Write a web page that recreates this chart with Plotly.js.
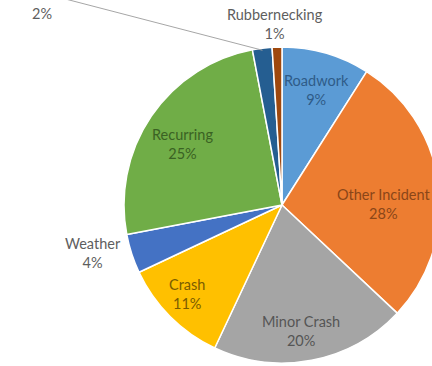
<!DOCTYPE html>
<html>
<head>
<meta charset="utf-8">
<script src="https://cdn.plot.ly/plotly-3.0.1.min.js"></script>
<style>
html,body{margin:0;padding:0;overflow:hidden;background:#fff;width:432px;height:366px;}
#chart{width:450px;height:366px;}
</style>
</head>
<body>
<div id="chart"></div>
<script>
// ---- data ----
const categories = ["Roadwork", "Other Incident", "Minor Crash", "Crash", "Weather", "Recurring", "Unlabeled", "Rubbernecking"];
const shares = [9, 28, 20, 11, 4, 25, 2, 1];
const showName = [true, true, true, true, true, true, false, true];

// ---- style ----
const sliceColors = ["#5B9BD5", "#ED7D31", "#A5A5A5", "#FFC000", "#4472C4", "#70AD47", "#255E91", "#9E480E"];
const textColors  = ["#2F5B88", "#8A4618", "#555555", "#7A5C00", "#5E5E5E", "#3A6223", "#5E5E5E", "#5E5E5E"];
// label centres in pixels (layout)
const labelPx = [[316,90],[383,204],[301,331],[187,294],[93,253],[182,144],[42,4],[275,24]];
const W = 450, H = 366;
const cx = 282, cy = 205, R = 158;
const px = x => x / W;
const py = y => 1 - y / H;

const total = shares.reduce((a,b)=>a+b,0);
const annotations = categories.map((c,i)=>({
  xref:'paper', yref:'paper', x:px(labelPx[i][0]), y:py(labelPx[i][1]),
  xanchor:'center', yanchor:'middle', showarrow:false,
  text:(showName[i] ? c : "&nbsp;") + '<br>' + Math.round(shares[i]/total*100) + '%',
  font:{family:'Lato, "Open Sans", sans-serif', size:14.5, color:textColors[i]}
}));

// leader line for the small unlabeled slice, from its mid-angle on the rim
let cum = 0; for (let i=0;i<6;i++) cum += shares[i];
const midA = (cum + shares[6]/2) / total * 2 * Math.PI;
const sx = cx + (R - 2) * Math.sin(midA), sy = cy - (R - 2) * Math.cos(midA);

const trace = {
  type:'pie', labels:categories, values:shares, sort:false,
  direction:'clockwise', rotation:0,
  marker:{colors:sliceColors, line:{color:'#ffffff', width:1.5}},
  textinfo:'none', hoverinfo:'label+percent',
  domain:{x:[px(cx-R), px(cx+R)], y:[py(cy+R), py(cy-R)]}
};

const layout = {
  width:W, height:H, margin:{l:0,r:0,t:0,b:0},
  paper_bgcolor:'#ffffff', showlegend:false,
  annotations:annotations,
  shapes:[{type:'line', xref:'paper', yref:'paper', x0:px(sx), y0:py(sy), x1:px(sx-200), y1:py(sy-52),
           line:{color:'#A6A6A6', width:1}}]
};

Plotly.newPlot('chart', [trace], layout, {displayModeBar:false, staticPlot:true});
</script>
</body>
</html>
